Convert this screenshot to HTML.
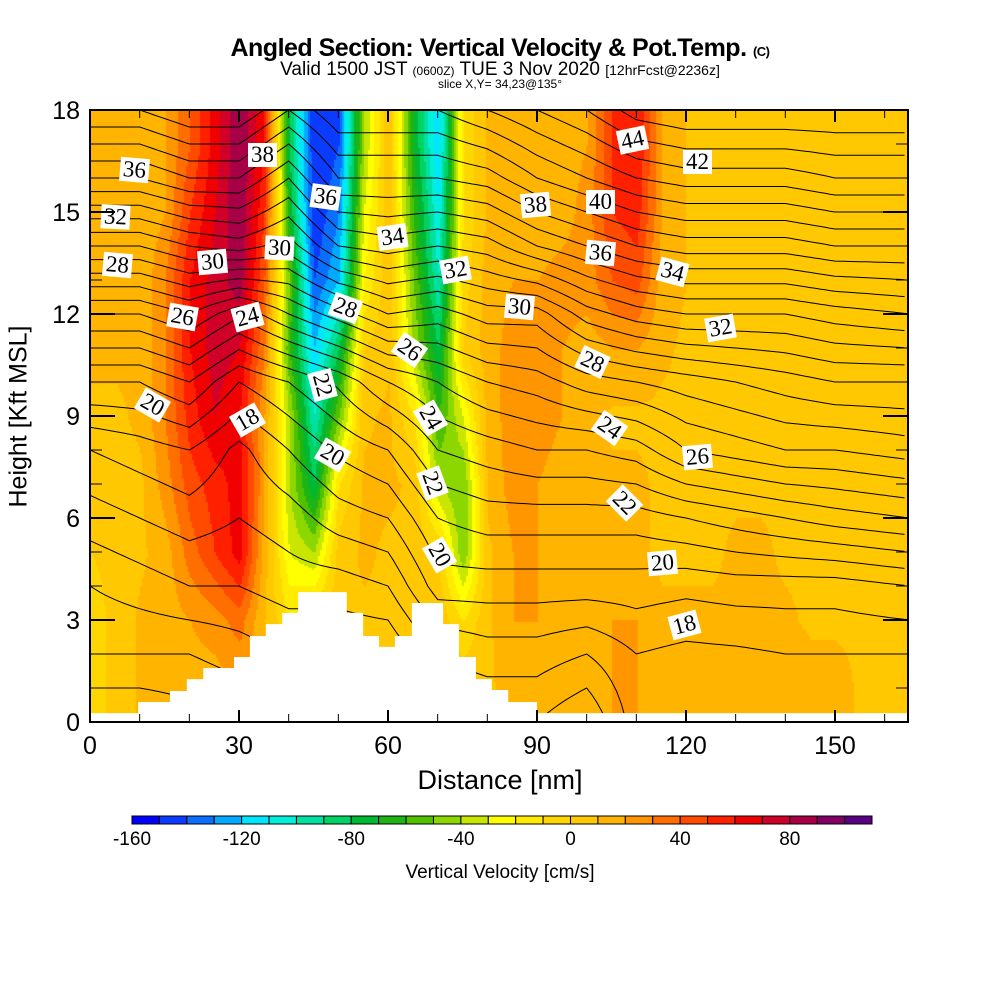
<!DOCTYPE html>
<html><head><meta charset="utf-8">
<style>
body{margin:0;background:#fff;width:1000px;height:1000px;position:relative;overflow:hidden;font-family:"Liberation Sans",sans-serif;}
.t{position:absolute;white-space:nowrap;color:#000;}
#plot{position:absolute;left:90px;top:110px;}
.lbl{position:absolute;background:#fff;font-family:"Liberation Serif",serif;font-size:23px;line-height:24px;padding:0 3px;transform-origin:center;}
</style></head>
<body>
<div class="t" style="left:0;width:1000px;text-align:center;top:34px;font-size:25px;font-weight:bold;letter-spacing:-0.5px;">Angled Section: Vertical Velocity &amp; Pot.Temp. <span style="font-size:13px">(C)</span></div>
<div class="t" style="left:0;width:1000px;text-align:center;top:59px;font-size:19px;">Valid 1500 JST <span style="font-size:12px">(0600Z)</span> TUE 3 Nov 2020 <span style="font-size:14px">[12hrFcst@2236z]</span></div>
<div class="t" style="left:0;width:1000px;text-align:center;top:77px;font-size:12px;">slice X,Y= 34,23@135°</div>
<canvas id="field" width="818" height="612" style="position:absolute;left:90px;top:110px;"></canvas>
<svg id="plot" width="818" height="612"></svg>
<div id="labels"></div>
<svg id="axes" width="1000" height="1000" style="position:absolute;left:0;top:0;"></svg>
<div class="t" style="left:0;width:1000px;text-align:center;top:765px;font-size:27px;">Distance [nm]</div>
<div class="t" style="left:-72px;top:402px;font-size:25px;transform:rotate(-90deg);">Height [Kft MSL]</div>
<svg id="cbar" width="1000" height="60" style="position:absolute;left:0;top:810px;"></svg>
<div class="t" style="left:0;width:1000px;text-align:center;top:862px;font-size:19px;">Vertical Velocity [cm/s]</div>
<script>
// ---- data ----
const velZ=[17,15,13,11,9,7,5,3,1];
const vel17=[15,15,12,20,40,65,90,60,-80,-150,-140,-40,8,-70,-120,-10,12,12,12,15,20,50,60,20,10,8,8,8,8,8,8,8,8,8];
const vel15=[15,12,12,20,50,70,90,50,-70,-150,-130,-30,8,-60,-110,-10,12,12,12,15,25,50,55,20,10,8,8,8,8,8,8,8,8,8];
const vel13=[12,12,12,30,60,75,85,40,-50,-140,-120,-20,8,-50,-100,-5,15,20,20,25,25,40,45,15,10,8,8,8,8,8,8,8,8,8];
const vel11=[12,12,12,30,60,75,70,30,-60,-120,-80,0,8,-40,-80,0,15,25,25,20,15,20,20,12,8,8,8,8,8,8,8,8,8,8];
const vel9=[8,8,12,30,55,70,60,20,-40,-100,-50,8,12,-10,-60,-30,15,25,25,20,15,8,8,8,8,8,8,8,8,8,8,8,8,8];
const vel7=[5,5,8,25,45,55,65,20,-40,-80,-10,12,12,8,-40,-50,12,25,20,15,12,12,12,8,8,8,8,8,8,8,8,8,8,8];
const vel5=[0,3,8,15,35,50,65,15,-30,-40,5,12,8,8,0,-50,8,20,20,15,12,12,12,8,8,8,12,12,8,8,8,8,8,8];
const vel3=[-5,3,12,15,20,25,35,10,-10,0,8,8,8,8,8,-10,8,20,20,15,12,20,20,12,12,12,12,12,12,8,8,8,8,8];
const vel1=[-5,3,12,15,15,15,20,15,8,8,8,8,8,8,12,8,8,15,20,20,20,20,20,20,20,20,20,20,20,15,15,8,8,8];
const velRows=[vel17,vel15,vel13,vel11,vel9,vel7,vel5,vel3,vel1];
const velXstep=5;
const thX=[0,10,20,30,40,50,60,70,80,90,100,110,120,130,140,150,165];
const thZ=[0,2,4,6,8,10,12,14,16,18];
const theta=[
[12,14,15,16.5,18,21,25,30,35,39],
[12,14,15.5,17,18.5,21,25,30,35,39],
[12.5,14,16,17.5,19,22,26,31,36,40],
[13,14.5,16,17,17.7,20,24.2,31.5,36,40],
[14,15,16.5,17.5,19,21,26,30.5,34,38],
[15,15,16.5,18.5,20.2,22.2,27.5,33,37,40],
[15,15,17,19,21,24,29,33.5,37,40],
[16,17,19.5,21,23,25,28.5,33,37,40],
[16,17.5,19.5,21.5,23.5,26,29.5,33.5,37.5,41],
[16,17.5,19.5,21.5,24,26.5,29.5,35,39,42],
[15,17,19.5,21.5,24,27.5,31.5,36,40,43],
[17.5,18,19.5,21.5,24.5,28,32.5,37,41,44.5],
[17,17.7,19.3,22,26,28.5,33,37.5,41.5,45],
[17,17.8,19.5,22.5,26.5,29,33,37.5,41.5,45],
[17,18,19.5,23,27,29.5,33,37.5,41.5,45],
[17,18,19.5,23.5,27,30,33.5,38,42,45],
[17,18,20,24,27.5,30,34,38,42,45]];
const terrX=[0,9.7,16.1,19.5,22.8,29.0,32.2,35.4,38.7,41.9,51.7,55.0,58.2,61.4,64.8,71.1,74.3,77.7,80.9,84.2,90,165];
const terrZ=[0.26,0.59,0.91,1.26,1.59,1.91,2.53,2.88,3.21,3.82,3.21,2.53,2.21,2.53,3.5,2.88,1.91,1.26,0.94,0.59,0.26,0.26];
const xTicks=[0,30,60,90,120,150];
const yTicks=[0,3,6,9,12,15,18];
const cbTicks=[-160,-120,-80,-40,0,40,80];
const cbColors=['#0000ff','#0a3cff','#0a6eff','#00aaff','#00e6ff','#00f0dc','#00e0a0','#00d264','#00b832','#1eb414','#50c000','#8cd700','#c8e600','#ffff00','#ffeb00','#ffd700','#ffc800','#ffb400','#ff9600','#ff6e00','#ff4b00','#ff2000','#f00000','#d00028','#a80046','#820064','#5a0082'];
const labels=[[36,137,170,5],[32,118,217,3],[28,120,265,5],[20,155,405,30],[26,185,317,10],[30,215,262,-5],[24,250,317,-15],[18,250,420,-30],[38,265,155,0],[30,282,248,3],[36,328,197,8],[28,348,308,20],[22,325,385,75],[20,335,455,30],[34,395,237,-8],[32,458,270,-10],[26,412,350,35],[24,433,418,60],[22,435,483,70],[20,442,555,60],[38,538,205,-5],[30,522,307,5],[40,603,202,0],[36,603,253,5],[28,595,362,25],[24,612,428,35],[22,627,503,45],[44,635,140,-12],[42,700,162,0],[34,675,272,15],[32,723,328,-10],[26,700,457,-5],[20,665,563,-5],[18,687,625,-15]];

// ---- scales ----
const W=818,H=612,XMAX=164.7,ZMAX=18;
const sx=v=>v/XMAX*W, sz=v=>H-v/ZMAX*H;
const NS='http://www.w3.org/2000/svg';
function velAt(x,z){
  let fx=Math.max(0,Math.min(vel1.length-1.001,x/velXstep)),i=Math.floor(fx),tx=fx-i;
  let fz=(17-z)/2; fz=Math.max(0,Math.min(velZ.length-1.001,fz)); let j=Math.floor(fz),tz=fz-j;
  const a=velRows[j][i]*(1-tx)+velRows[j][i+1]*tx, b=velRows[j+1][i]*(1-tx)+velRows[j+1][i+1]*tx;
  return a*(1-tz)+b*tz;
}
const ctx=document.getElementById('field').getContext('2d');
for(let py=0;py<H;py+=2)for(let px=0;px<W;px+=2){
  const v=velAt(px/W*XMAX,(H-py)/H*ZMAX);
  let k=Math.floor((v+160)/10);k=Math.max(0,Math.min(26,k));
  ctx.fillStyle=cbColors[k];ctx.fillRect(px,py,2,2);
}
const plot=document.getElementById('plot');
function thetaCol(x){
  let i=0;while(i<thX.length-2&&x>thX[i+1])i++;
  const t=(x-thX[i])/(thX[i+1]-thX[i]);
  return thZ.map((_,k)=>theta[i][k]*(1-t)+theta[i+1][k]*t);
}
for(let lev=12;lev<=45;lev++){
  let d='',pen=false;
  for(let x=0;x<=XMAX+0.01;x+=1){
    const col=thetaCol(x);let z=null;
    for(let k=0;k<col.length-1;k++){const a=col[k],b=col[k+1];
      if((a-lev)*(b-lev)<=0&&a!==b){z=thZ[k]+(lev-a)/(b-a)*(thZ[k+1]-thZ[k]);break;}}
    if(z===null){pen=false;continue;}
    d+=(pen?'L':'M')+sx(x).toFixed(1)+','+sz(z).toFixed(1);pen=true;
  }
  if(!d)continue;
  const p=document.createElementNS(NS,'path');
  p.setAttribute('d',d);p.setAttribute('fill','none');p.setAttribute('stroke','#000');p.setAttribute('stroke-width','1');
  
  
  plot.appendChild(p);
}
let td='M0,'+H;
terrX.forEach((x,i)=>{const nx=i<terrX.length-1?terrX[i+1]:XMAX;td+=' L'+sx(x)+','+sz(terrZ[i])+' L'+sx(nx)+','+sz(terrZ[i]);});
td+=' L'+W+','+H+'Z';
const tp=document.createElementNS(NS,'path');tp.setAttribute('d',td);tp.setAttribute('fill','#fff');


plot.appendChild(tp);
const lb=document.getElementById('labels');
labels.forEach(l=>{const e=document.createElement('div');e.className='lbl';e.textContent=l[0];
  e.style.left=(l[1]-17)+'px';e.style.top=(l[2]-12)+'px';e.style.transform='rotate('+l[3]+'deg)';
  
  
  lb.appendChild(e);});
const ax=document.getElementById('axes');let s='<rect x="90" y="110" width="818" height="612" fill="none" stroke="#000" stroke-width="2"/>';
for(let x=0;x<=160;x+=10){const X=90+sx(x),L=x%30===0?12:8;s+=`<line x1="${X}" y1="722" x2="${X}" y2="${722-L}" stroke="#000" stroke-width="${x%30===0?2:1}"/><line x1="${X}" y1="110" x2="${X}" y2="${110+L}" stroke="#000" stroke-width="${x%30===0?2:1}"/>`;}
for(let z=0;z<=18;z+=1){const Y=110+sz(z),L=z%3===0?25:12;s+=`<line x1="90" y1="${Y}" x2="${90+L}" y2="${Y}" stroke="#000" stroke-width="${z%3===0?2:1}"/><line x1="908" y1="${Y}" x2="${908-L}" y2="${Y}" stroke="#000" stroke-width="${z%3===0?2:1}"/>`;}
xTicks.forEach(x=>{s+=`<text x="${90+sx(x)}" y="754" font-size="25" text-anchor="middle" font-family="Liberation Sans">${x}</text>`;});
yTicks.forEach(z=>{s+=`<text x="80" y="${110+sz(z)+9}" font-size="25" text-anchor="end" font-family="Liberation Sans">${z}</text>`;});
ax.innerHTML=s;
const cb=document.getElementById('cbar');const cw=740/27;let c='';
cbColors.forEach((col,i)=>{c+=`<rect x="${132+i*cw}" y="6" width="${cw}" height="8" fill="${col}" stroke="#000" stroke-width="1"/>`;});
cbTicks.forEach(v=>{c+=`<text x="${132+(v+160)/10*cw}" y="35" font-size="19" text-anchor="middle" font-family="Liberation Sans">${v}</text>`;});
cb.innerHTML=c;
</script>
</body></html>
